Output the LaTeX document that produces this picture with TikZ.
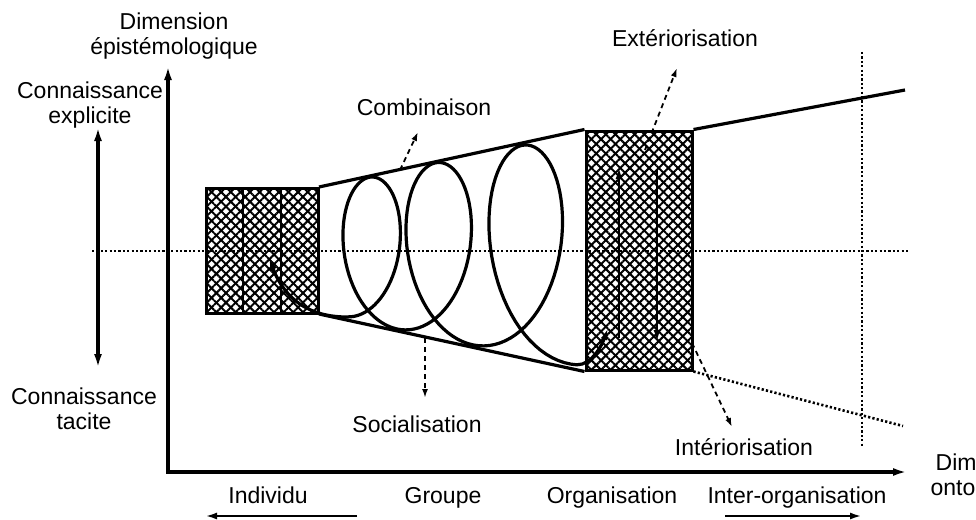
\documentclass[tikz,border=0pt]{standalone}
\usepackage{fontspec}
\setmainfont{Liberation Sans}
\usetikzlibrary{arrows.meta,patterns.meta,calc}

\tikzset{
  hatchbox/.style={draw,line width=3pt,inner sep=0pt,
    pattern={Lines[angle=45,distance=6.8pt,line width=2pt]},
    postaction={pattern={Lines[angle=-45,distance=6.8pt,line width=2pt]}}},
  dotline/.style={line width=2.6pt,dash pattern=on 2.2pt off 2.2pt},
  dasharrow/.style={line width=1.8pt,dash pattern=on 5pt off 4pt,
    -{Latex[length=9pt,width=6pt]}},
  thickline/.style={line width=3.2pt},
}

\begin{document}
\begin{tikzpicture}[x=1pt,y=-1pt,font=\fontsize{23}{25}\selectfont,
    >={Latex[length=14pt,width=8pt]}]

  \useasboundingbox[fill=white] (0,0) rectangle (976,519);

  % --- axes ---
  \coordinate (O) at (168,472);
  \coordinate (ytip) at (168,66);
  \coordinate (xtip) at (907,472);
  \draw[<->,thickline,line join=miter] (ytip) -- (O) -- (xtip);

  \node[align=center] (epist) at (174,36) {Dimension\\épistémologique};
  \node[align=center] (onto) at (990,477) {Dimension\\ontologique};
  \node[align=center] (explicit) at (90,105) {Connaissance\\explicite};
  \node[align=center] (tacit) at (84,409) {Connaissance\\tacite};

  % explicit <-> tacit
  \coordinate (kup) at (98,127);
  \coordinate (kdown) at (98,368);
  \draw[<->,thickline] (kup) -- (kdown);

  % ontological levels
  \foreach \name/\xx/\txt in {indiv/268/Individu,group/443/Groupe,
                              org/612/Organisation,inter/797/Inter-organisation}
    \node[anchor=base] (\name) at (\xx,503) {\txt};
  \coordinate (lvlL1) at (357,516);
  \coordinate (lvlL2) at (205,516);
  \coordinate (lvlR1) at (725,516);
  \coordinate (lvlR2) at (862,516);
  \draw[->,line width=2.8pt,>={Latex[length=12pt,width=7pt]}] (lvlL1) -- (lvlL2);
  \draw[->,line width=2.8pt,>={Latex[length=12pt,width=7pt]}] (lvlR1) -- (lvlR2);

  % --- hatched boxes ---
  \node[hatchbox,minimum width=112pt,minimum height=125pt] (indbox) at (262,250.5) {};
  \foreach \f in {1,2}
    \draw[line width=2.6pt] ($(indbox.north west)!\f/3!(indbox.north east)$)
      -- ($(indbox.south west)!\f/3!(indbox.south east)$);
  \node[hatchbox,minimum width=106pt,minimum height=239pt] (orgbox) at (639,250.5) {};

  % --- funnel ---
  \coordinate (farT) at (905,90);
  \coordinate (farB) at (903,426);
  \draw[thickline] (indbox.north east) -- (orgbox.north west);
  \draw[thickline] (indbox.south east) -- (orgbox.south west);
  \draw[thickline] (orgbox.north east) -- (farT);
  \draw[dotline] (orgbox.south east) -- (farB);

  % --- dotted references ---
  \coordinate (midL) at (92,251);
  \coordinate (midR) at (910,251);
  \draw[dotline] (midL) -- (midR);
  \coordinate (orgT) at (862,52);
  \coordinate (orgB) at (862,447);
  \draw[dotline] (orgT) -- (orgB);

  % --- spiral ---
  \coordinate (spin) at (269,258);
  \coordinate (spout) at (608,328);
  \draw[thickline,{Latex[length=12pt,width=7pt]}-{Latex[length=12pt,width=7pt]}]
    (spin) .. controls (285,300) and (310,317) .. (347,317)
    -- plot[domain=-0.5:2.5,samples=240,variable=\s]
       ({373+57*(\s)+10*(\s)*(\s)-(42+8.5*(\s))*sin(360*(\s))},
        {250-(73+13*(\s)+1.5*(\s)*(\s))*cos(360*(\s))})
    .. controls (592,365) and (602,345) .. (spout);

  % inside the organisation box
  \coordinate (upB) at (619,338);
  \coordinate (upT) at (619,167);
  \coordinate (dnT) at (657,170);
  \coordinate (dnB) at (657,342);
  \draw[->,line width=2.8pt,>={Latex[length=12pt,width=7pt]}] (upB) -- (upT);
  \draw[->,line width=2.8pt,>={Latex[length=12pt,width=7pt]}] (dnT) -- (dnB);

  % --- conversion modes ---
  \node[anchor=base] (combi) at (424,115) {Combinaison};
  \node[anchor=base] (exter) at (685,47) {Extériorisation};
  \node[anchor=base] (social) at (417,432) {Socialisation};
  \node[anchor=base] (inter) at (744,455) {Intériorisation};

  \coordinate (combiA) at (400,170);
  \coordinate (combiB) at (418,132);
  \coordinate (exterA) at (645,150);
  \coordinate (exterB) at (677,68);
  \coordinate (socialA) at (425,338);
  \coordinate (socialB) at (425,398);
  \coordinate (interA) at (692,343);
  \coordinate (interB) at (732,427);
  \draw[dasharrow] (combiA) -- (combiB);
  \draw[dasharrow] (exterA) -- (exterB);
  \draw[dasharrow] (socialA) -- (socialB);
  \draw[dasharrow] (interA) -- (interB);

\end{tikzpicture}
\end{document}
